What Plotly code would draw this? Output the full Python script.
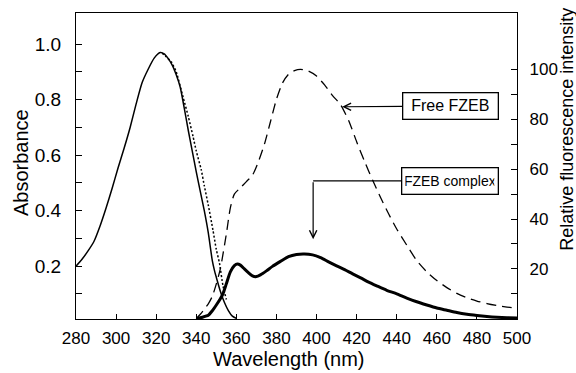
import plotly.graph_objects as go

# ---- data ----
abs_wl = [280, 283, 286, 289, 292, 295, 298, 301, 304, 307, 310, 313, 316, 319, 322, 324,
          326, 328, 330, 332, 334, 336, 338, 340, 342, 344, 346, 348, 349, 350, 352, 354,
          356, 358, 360]
abs_free = [0.200, 0.225, 0.255, 0.290, 0.345, 0.410, 0.480, 0.555, 0.625, 0.700, 0.785,
            0.862, 0.910, 0.950, 0.970, 0.965, 0.948, 0.925, 0.890, 0.845, 0.770, 0.690,
            0.615, 0.540, 0.470, 0.400, 0.320, 0.220, 0.187, 0.160, 0.110, 0.070, 0.040,
            0.020, 0.012]

abs2_wl = [323, 325, 327.6, 330, 333.4, 336, 338.4, 340, 342.5, 344, 346, 348.3, 350,
           351.6, 353.3, 355]
abs_complex = [0.968, 0.955, 0.936, 0.900, 0.810, 0.740, 0.667, 0.615, 0.547, 0.490, 0.420,
               0.331, 0.260, 0.210, 0.130, 0.080]

fl_free_wl = [340, 342, 344, 346, 348, 350, 352, 355, 357, 359, 362, 365, 368, 371, 374, 377,
              380, 383, 386, 389, 392, 396, 400, 404, 408, 412, 416, 420, 424, 428, 432, 436,
              440, 445, 450, 455, 460, 465, 470, 475, 480, 485, 490, 495, 500]
fl_free = [0, 1.8, 3.8, 6.0, 9.0, 14.0, 20.0, 34.0, 44.5, 50.0, 52.5, 55.0, 57.5, 63.0, 70.0,
           79.0, 88.0, 94.5, 98.0, 99.5, 100.0, 99.3, 97.3, 93.8, 89.5, 85.8, 79.5, 71.0,
           63.0, 55.5, 48.5, 42.0, 36.0, 29.5, 23.3, 18.8, 15.3, 12.5, 10.2, 8.4, 7.1, 6.1,
           5.3, 4.7, 4.2]

fl_cx_wl = [340, 343, 346, 348, 350, 352, 353.3, 355, 357, 359, 360.5, 362, 364, 366, 368,
            370, 372, 375, 378, 382, 386, 390, 394, 398, 402, 406, 410, 414, 418, 422, 426,
            430, 435, 440, 445, 450, 455, 460, 465, 470, 475, 480, 485, 490, 495, 500]
fl_complex = [0, 0.6, 1.4, 3.2, 5.5, 8.0, 10.0, 14.0, 18.8, 21.3, 22.0, 21.5, 20.0, 18.5,
              17.2, 16.9, 17.6, 19.2, 21.0, 23.0, 24.9, 25.8, 26.0, 25.6, 24.5, 22.8, 21.2,
              19.7, 18.0, 16.4, 14.7, 13.2, 11.4, 10.0, 8.3, 6.8, 5.5, 4.3, 3.4, 2.5, 1.8,
              1.3, 0.9, 0.6, 0.4, 0.3]

x_ticks = [280, 300, 320, 340, 360, 380, 400, 420, 440, 460, 480, 500]
y1_ticks = [0.1, 0.2, 0.3, 0.4, 0.5, 0.6, 0.7, 0.8, 0.9, 1.0]
y1_labels = ["", "0.2", "", "0.4", "", "0.6", "", "0.8", "", "1.0"]
y2_ticks = [10, 20, 30, 40, 50, 60, 70, 80, 90, 100]
y2_labels = ["", "20", "", "40", "", "60", "", "80", "", "100"]

label_free = "Free FZEB"
label_complex = "FZEB complex"

FONT = "Liberation Sans, Arial, Helvetica, sans-serif"
BLACK = "#000000"

fig = go.Figure()
fig.add_trace(go.Scatter(x=abs_wl, y=abs_free, mode="lines",
                         line=dict(color=BLACK, width=1.5, shape="spline", smoothing=0.6),
                         yaxis="y", showlegend=False))
fig.add_trace(go.Scatter(x=abs2_wl, y=abs_complex, mode="lines",
                         line=dict(color=BLACK, width=1.5, dash="2px,2px", shape="spline", smoothing=0.6),
                         yaxis="y", showlegend=False))
fig.add_trace(go.Scatter(x=fl_free_wl, y=fl_free, mode="lines",
                         line=dict(color=BLACK, width=1.3, dash="10px,6px", shape="spline", smoothing=0.6),
                         yaxis="y2", showlegend=False))
fig.add_trace(go.Scatter(x=fl_cx_wl, y=fl_complex, mode="lines",
                         line=dict(color=BLACK, width=3, shape="spline", smoothing=0.6),
                         yaxis="y2", showlegend=False))

axis_common = dict(showgrid=False, zeroline=False, showline=True, linecolor=BLACK, linewidth=1.3,
                   ticks="inside", tickcolor=BLACK, tickwidth=1.2)

fig.update_layout(
    width=576, height=373,
    margin=dict(l=76, r=59, t=13, b=54),
    paper_bgcolor="white", plot_bgcolor="white",
    font=dict(family=FONT, color=BLACK),
    xaxis=dict(range=[280, 500], tickvals=x_ticks, ticklen=5, mirror=True,
               tickfont=dict(size=17), ticklabelstandoff=3, **axis_common),
    yaxis=dict(range=[0.0097, 1.1126], tickvals=y1_ticks, ticktext=y1_labels, ticklen=6,
               tickfont=dict(size=19), ticklabelstandoff=10, **axis_common),
    yaxis2=dict(range=[-0.1, 122.6], tickvals=y2_ticks, ticktext=y2_labels, ticklen=6,
                overlaying="y", side="right", tickfont=dict(size=17), ticklabelstandoff=8,
                **axis_common),
)

annotations = [
    dict(text="Absorbance", xref="paper", yref="paper", x=-0.123, y=0.512, textangle=-90,
         showarrow=False, xanchor="center", yanchor="middle", font=dict(size=20)),
    dict(text="Wavelength (nm)", xref="paper", yref="paper", x=0.482, y=-0.13,
         showarrow=False, xanchor="center", yanchor="middle", font=dict(size=20)),
    dict(text="Relative fluorescence intensity", xref="paper", yref="paper", x=1.113, y=0.621,
         textangle=-90, showarrow=False, xanchor="center", yanchor="middle", font=dict(size=18)),
    # Free FZEB label with arrow
    dict(text=label_free, x=412.8, y=85, xref="x", yref="y2", ax=467, ay=85.3,
         axref="x", ayref="y2", showarrow=True, arrowhead=5, arrowsize=1.2, arrowwidth=1.2,
         arrowcolor=BLACK, bordercolor=BLACK, borderwidth=1.3, borderpad=3, bgcolor="white",
         width=88, height=19, font=dict(size=16)),
    # FZEB complex label
    dict(text=label_complex, x=466.7, y=55.4, xref="x", yref="y2", showarrow=False,
         bordercolor=BLACK, borderwidth=1.3, borderpad=3, bgcolor="white",
         width=89, height=19, font=dict(size=14)),
    # vertical arrow for FZEB complex
    dict(text="", x=398.3, y=31.9, xref="x", yref="y2", ax=398.3, ay=55.3,
         axref="x", ayref="y2", showarrow=True, arrowhead=5, arrowsize=1.2, arrowwidth=1.2,
         arrowcolor=BLACK),
]
fig.update_layout(annotations=annotations)

fig.add_shape(type="line", xref="x", yref="y2", x0=398.3, x1=442.6, y0=55.3, y1=55.3,
              line=dict(color=BLACK, width=1.2))

fig.write_html("out.html", config={"displayModeBar": False},
               post_script="document.body.style.margin='0px';document.body.style.overflow='hidden';")
